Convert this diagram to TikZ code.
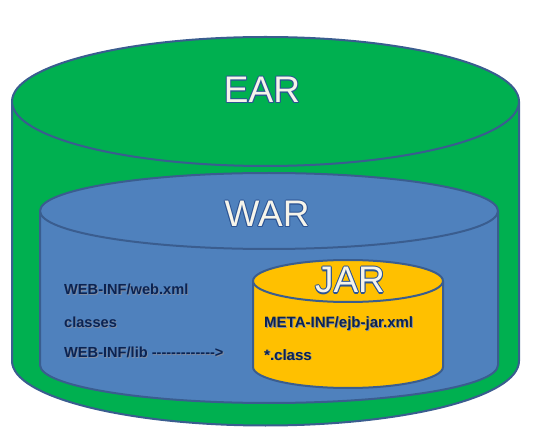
\documentclass[tikz,border=0pt]{standalone}
\usepackage{fontspec}
\setmainfont{Liberation Sans}
\definecolor{earg}{HTML}{00B050}
\definecolor{warb}{HTML}{4F81BD}
\definecolor{jary}{HTML}{FFC000}
\definecolor{edge}{HTML}{3A5D8F}
\definecolor{cream}{HTML}{F6F4EA}
\definecolor{olc}{HTML}{2C5494}
\definecolor{navy}{HTML}{0B2352}
\definecolor{shad}{HTML}{1A2E55}
\newcommand\olt[1]{%
  \setbox0\hbox{#1}%
  \rlap{\color{olc}\kern-1pt\copy0}%
  \rlap{\color{olc}\kern1pt\copy0}%
  \rlap{\color{olc}\raise1pt\copy0}%
  \rlap{\color{olc}\lower1pt\copy0}%
  \rlap{\color{olc}\kern0.7pt\raise0.7pt\copy0}%
  \rlap{\color{olc}\kern-0.7pt\raise0.7pt\copy0}%
  \rlap{\color{olc}\kern0.7pt\lower0.7pt\copy0}%
  \rlap{\color{olc}\kern-0.7pt\lower0.7pt\copy0}%
  {\color{cream}\box0}}
\newcommand\sht[1]{%
  \setbox0\hbox{#1}%
  \rlap{\color{shad!55}\kern0.8pt\lower0.8pt\copy0}%
  {\color{navy}\box0}}
\newcommand\dsh{-\kern0pt}
\tikzset{
  cyl/.style={draw=edge, line width=2pt, line join=round},
  bigtext/.style={inner sep=0pt, anchor=base, font=\fontsize{37}{40}\selectfont},
  smalltext/.style={inner sep=0pt, anchor=base west, font=\fontsize{14.6}{16}\selectfont\bfseries},
  jartext/.style={inner sep=0pt, anchor=base west, font=\fontsize{15}{17}\selectfont\bfseries},
}
\begin{document}
\begin{tikzpicture}[x=1pt,y=1pt]
\useasboundingbox (0,0) rectangle (536,437);
% EAR
\filldraw[cyl, fill=earg] (12,335.5) -- (12,76) arc[start angle=180,end angle=360,x radius=253.5pt,y radius=64.5pt] -- (519,335.5) -- cycle;
\filldraw[cyl, fill=earg] (265.5,335.5) ellipse [x radius=253.5pt, y radius=64.5pt];
% WAR
\filldraw[cyl, fill=warb] (40,226) -- (40,72) arc[start angle=180,end angle=360,x radius=229pt,y radius=38pt] -- (498,226) -- cycle;
\filldraw[cyl, fill=warb] (269,226) ellipse [x radius=229pt, y radius=38pt];
% JAR
\filldraw[cyl, fill=jary] (253,156) -- (253,70) arc[start angle=180,end angle=360,x radius=95pt,y radius=21pt] -- (443,156) -- cycle;
\filldraw[cyl, fill=jary] (348,156) ellipse [x radius=95pt, y radius=21pt];
% titles
\node[bigtext] (ear) at (262,334) {\olt{EAR}};
\node[bigtext] (war) at (267,210) {\olt{WAR}};
\node[bigtext] (jar) at (350,144) {\olt{JAR}};
% texts
\node[smalltext] (webxml) at (64,142) {\sht{WEB-INF/web.xml}};
\node[smalltext] (classes) at (64,109) {\sht{classes}};
\node[smalltext] (weblib) at (64,79) {\sht{WEB-INF/lib \dsh\dsh\dsh\dsh\dsh\dsh\dsh\dsh\dsh\dsh\dsh\dsh\dsh>}};
\node[jartext] (ejbxml) at (264,109) {\sht{META-INF/ejb-jar.xml}};
\node[jartext] (cls) at (264,77) {\sht{*.class}};
\end{tikzpicture}
\end{document}
